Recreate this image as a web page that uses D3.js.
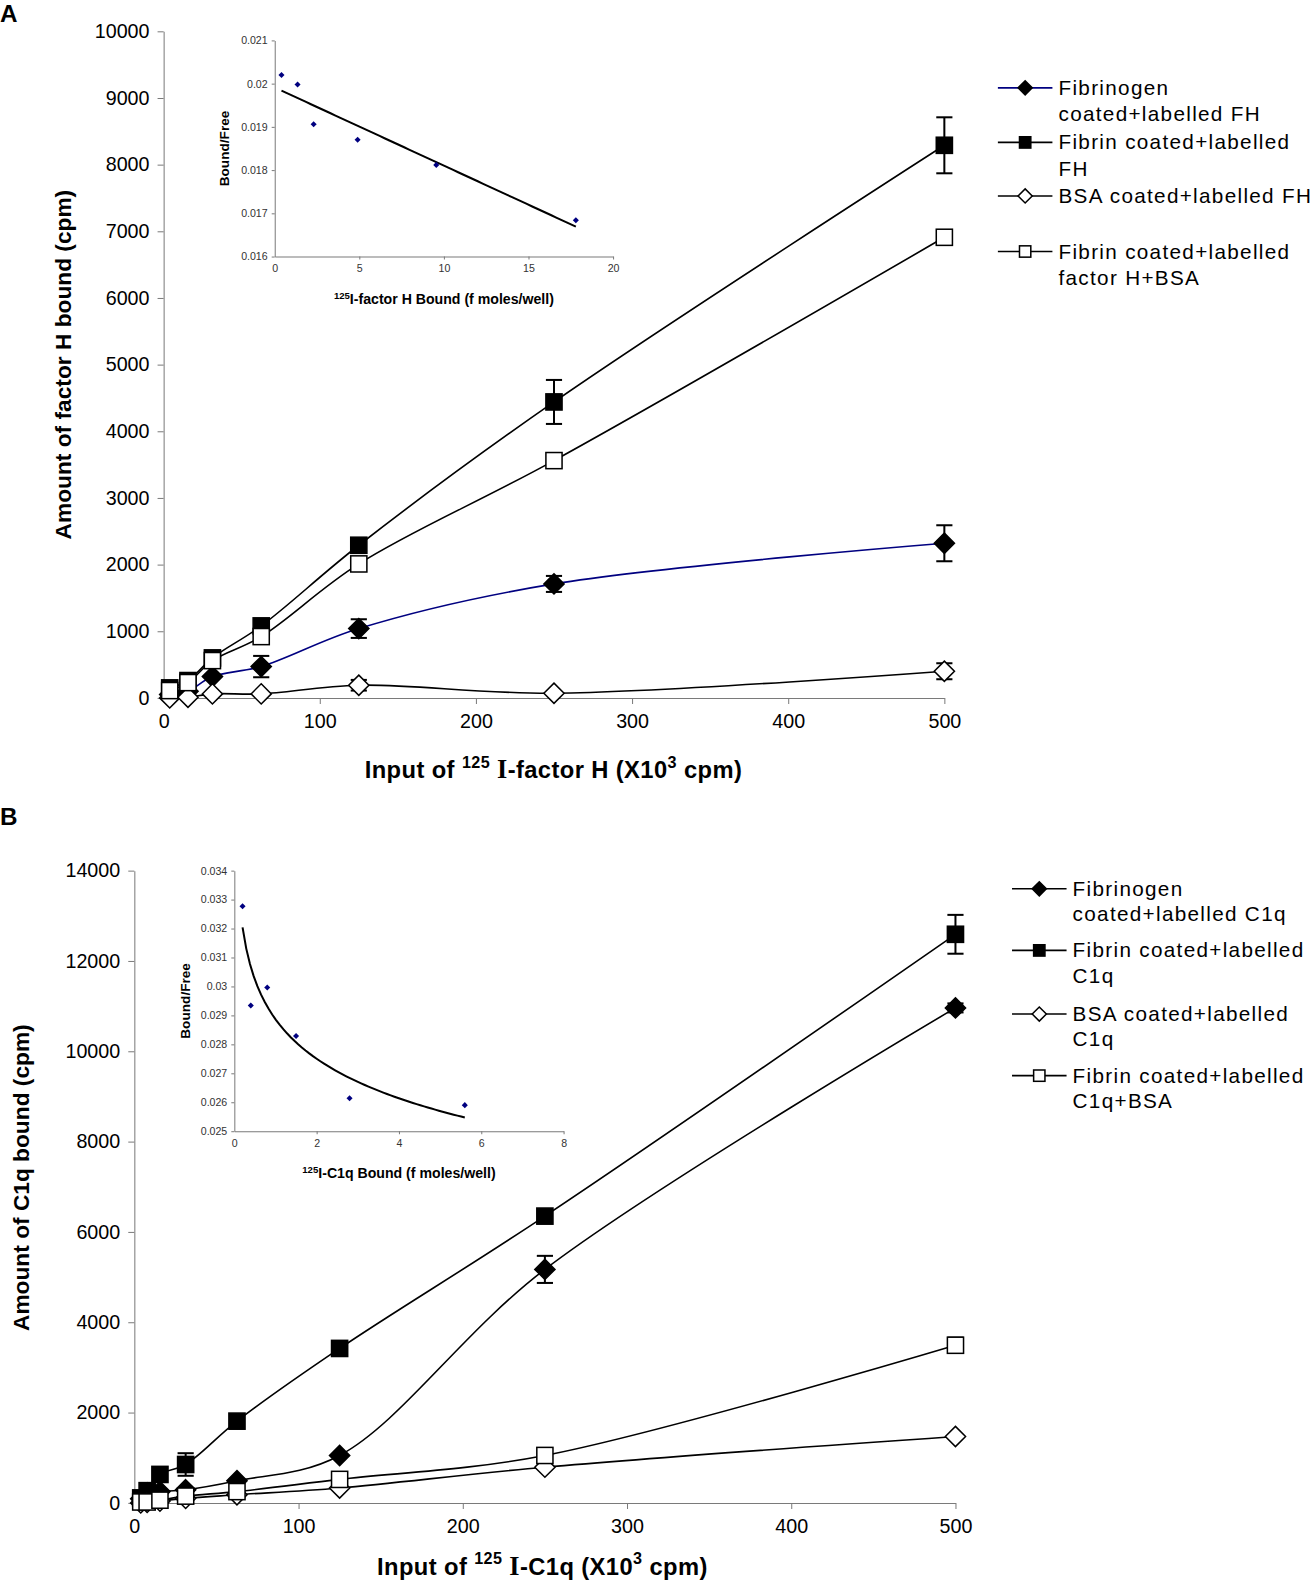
<!DOCTYPE html>
<html>
<head>
<meta charset="utf-8">
<script src="https://cdn.jsdelivr.net/npm/d3@7"></script>
<style>
  body { margin: 0; background: #fff; }
  svg { display: block; font-family: Arial, "Liberation Sans", sans-serif; }
</style>
</head>
<body>
<svg id="fig" width="1312" height="1583"></svg>
<script>
/* ---- panel A : factor H binding ---- */
var inputA = [3.9, 15.6, 31.25, 62.5, 125, 250, 500];
var fibrinogenA = [50, 100, 320, 470, 1040, 1710, 2320];
var fibrinogenErrA = [0, 0, 0, 160, 140, 120, 270];
var fibrinA = [150, 260, 600, 1080, 2290, 4440, 8290];
var fibrinErrA = [100, 0, 0, 0, 0, 330, 420];
var bsaA = [0, 10, 60, 60, 190, 70, 400];
var bsaErrA = [0, 0, 0, 0, 80, 0, 120];
var fibrinBsaA = [110, 230, 560, 920, 2010, 3560, 6910];
var fibrinBsaErrA = [0, 0, 0, 0, 0, 0, 0];
var yTicksA = [0, 1000, 2000, 3000, 4000, 5000, 6000, 7000, 8000, 9000, 10000];
var xTicks = [0, 100, 200, 300, 400, 500];
var legendA = [
  ["Fibrinogen", "coated+labelled FH"],
  ["Fibrin coated+labelled", "FH"],
  ["BSA coated+labelled FH"],
  ["Fibrin coated+labelled", "factor H+BSA"]
];

/* Scatchard inset A */
var scatBoundA = [0.4, 1.35, 2.3, 4.9, 9.55, 17.8];
var scatRatioA = [0.0202, 0.01998, 0.01906, 0.0187, 0.01812, 0.01684];
var insetXTicksA = [0, 5, 10, 15, 20];
var insetYTicksA = [0.016, 0.017, 0.018, 0.019, 0.02, 0.021];

/* ---- panel B : C1q binding ---- */
var inputB = [3.9, 7.8, 15.6, 31.25, 62.5, 125, 250, 500];
var fibrinogenB = [90, 220, 250, 290, 490, 1050, 5170, 10960];
var fibrinogenErrB = [0, 0, 0, 0, 0, 0, 300, 100];
var fibrinB = [110, 270, 630, 850, 1810, 3420, 6350, 12590];
var fibrinErrB = [0, 0, 0, 250, 0, 0, 0, 430];
var bsaB = [0, 10, 40, 100, 180, 330, 790, 1470];
var bsaErrB = [0, 0, 0, 0, 0, 0, 0, 0];
var fibrinBsaB = [20, 20, 60, 150, 250, 520, 1050, 3490];
var fibrinBsaErrB = [0, 0, 0, 0, 0, 0, 0, 170];
var yTicksB = [0, 2000, 4000, 6000, 8000, 10000, 12000, 14000];
var legendB = [
  ["Fibrinogen", "coated+labelled C1q"],
  ["Fibrin coated+labelled", "C1q"],
  ["BSA coated+labelled", "C1q"],
  ["Fibrin coated+labelled", "C1q+BSA"]
];

/* Scatchard inset B */
var scatBoundB = [0.2, 0.4, 0.8, 1.5, 2.8, 5.6];
var scatRatioB = [0.03277, 0.02934, 0.02996, 0.02829, 0.02614, 0.0259];
var insetXTicksB = [0, 2, 4, 6, 8];
var insetYTicksB = [0.025, 0.026, 0.027, 0.028, 0.029, 0.03, 0.031, 0.032, 0.033, 0.034];

// layout numbers below were measured on a slightly shrunk view, hence the scale
var svg = d3.select("#fig").append("g").attr("transform", "scale(1.01)");
var axisColor = "#7a7a7a";

function marker(g, kind, fill, r) {
  if (kind == "diamond") {
    return g.append("path").attr("d", "M0," + (-r) + "L" + r + ",0L0," + r + "L" + (-r) + ",0Z")
      .attr("fill", fill).attr("stroke", "#000").attr("stroke-width", 1.5);
  }
  var s = r * 0.8;
  return g.append("rect").attr("x", -s).attr("y", -s).attr("width", 2 * s).attr("height", 2 * s)
    .attr("fill", fill).attr("stroke", "#000").attr("stroke-width", 1.5);
}

function styleAxis(g, fs) {
  g.select(".domain").attr("stroke", axisColor);
  g.selectAll(".tick line").attr("stroke", axisColor);
  g.selectAll(".tick text").attr("fill", "#000").style("font-size", fs + "px").style("font-family", "Arial, 'Liberation Sans', sans-serif");
}

function mainPanel(p) {
  var x = d3.scaleLinear().domain([0, 500]).range([p.left, p.right]);
  var y = d3.scaleLinear().domain([0, p.ymax]).range([p.bottom, p.top]);
  var g = svg.append("g");

  var ga = g.append("g").attr("transform", "translate(0," + p.bottom + ")")
    .call(d3.axisBottom(x).tickValues(xTicks).tickSize(6).tickSizeOuter(0).tickPadding(10));
  styleAxis(ga, 19.5);
  ga.selectAll(".tick").filter(function(d) { return d == 0; }).select("line").remove();
  var gy = g.append("g").attr("transform", "translate(" + p.left + ",0)")
    .call(d3.axisLeft(y).tickValues(p.yTicks).tickSize(6).tickSizeOuter(0).tickPadding(8).tickFormat(d3.format("d")));
  styleAxis(gy, 19.5);

  var line = d3.line().curve(d3.curveCatmullRom.alpha(0.5))
    .x(function(d) { return x(d[0]); }).y(function(d) { return y(d[1]); });

  p.series.forEach(function(s) {
    var pts = p.input.map(function(v, i) { return [v, s.values[i], s.err[i]]; });
    g.append("path").datum(pts).attr("d", line).attr("fill", "none")
      .attr("stroke", s.color).attr("stroke-width", 1.6);
  });
  p.series.forEach(function(s) {
    var pts = p.input.map(function(v, i) { return [v, s.values[i], s.err[i]]; });
    pts.filter(function(d) { return d[2] > 0; }).forEach(function(d) {
      var cx = x(d[0]), y0 = y(d[1] - d[2]), y1 = y(d[1] + d[2]);
      var eb = g.append("g").attr("stroke", "#000").attr("stroke-width", 2);
      eb.append("line").attr("x1", cx).attr("x2", cx).attr("y1", y0).attr("y2", y1);
      eb.append("line").attr("x1", cx - 8).attr("x2", cx + 8).attr("y1", y0).attr("y2", y0);
      eb.append("line").attr("x1", cx - 8).attr("x2", cx + 8).attr("y1", y1).attr("y2", y1);
    });
    pts.forEach(function(d) {
      var m = g.append("g").attr("transform", "translate(" + x(d[0]) + "," + y(d[1]) + ")");
      marker(m, s.shape, s.fill, 10);
    });
  });

  // axis titles
  g.append("text").attr("transform", "translate(" + p.yTitleX + "," + p.yTitleY + ") rotate(-90)")
    .attr("text-anchor", "middle").style("font-size", "22.5px").style("font-weight", "bold").text(p.yTitle);
  var xt = g.append("text").attr("x", p.xTitleX).attr("y", p.xTitleY).attr("text-anchor", "middle")
    .style("font-size", "23.5px").style("font-weight", "bold").style("letter-spacing", "0.4px");
  xt.append("tspan").text("Input of ");
  xt.append("tspan").attr("dy", -10).style("font-size", "16px").text("125");
  xt.append("tspan").attr("dy", 10).text(" ");
  xt.append("tspan").style("font-family", "'Liberation Serif', 'DejaVu Serif', serif").style("font-size", "26px").text("I");
  xt.append("tspan").text(p.xTitleRest);
  xt.append("tspan").attr("dy", -10).style("font-size", "16px").text("3");
  xt.append("tspan").attr("dy", 10).text(" cpm)");

  g.append("text").attr("x", 0).attr("y", p.letterY).style("font-size", "24px").style("font-weight", "bold").text(p.letter);

  // legend
  var lg = g.append("g");
  p.legend.forEach(function(lines, i) {
    var s = p.series[i], ly = p.legendY[i];
    lg.append("line").attr("x1", p.legendX).attr("x2", p.legendX + 54).attr("y1", ly).attr("y2", ly)
      .attr("stroke", s.color).attr("stroke-width", 1.6);
    var m = lg.append("g").attr("transform", "translate(" + (p.legendX + 27) + "," + ly + ")");
    marker(m, s.shape, s.fill, 7);
    var t = lg.append("text").attr("x", p.legendX + 60).attr("y", ly + 7)
      .style("font-size", "20.5px").style("letter-spacing", "1.3px");
    lines.forEach(function(txt, k) {
      t.append("tspan").attr("x", p.legendX + 60).attr("dy", k == 0 ? 0 : p.legendLine).text(txt);
    });
  });
}

function inset(p) {
  var x = d3.scaleLinear().domain(p.xDomain).range([p.left, p.right]);
  var y = d3.scaleLinear().domain(p.yDomain).range([p.bottom, p.top]);
  var g = svg.append("g");
  var ga = g.append("g").attr("transform", "translate(0," + p.bottom + ")")
    .call(d3.axisBottom(x).tickValues(p.xTicks).tickSize(3).tickSizeOuter(0).tickPadding(5));
  styleAxis(ga, 10.5);
  ga.selectAll(".tick").filter(function(d) { return d == 0; }).select("line").remove();
  var gy = g.append("g").attr("transform", "translate(" + p.left + ",0)")
    .call(d3.axisLeft(y).tickValues(p.yTicks).tickSize(3).tickSizeOuter(0).tickPadding(4).tickFormat(d3.format("")));
  styleAxis(gy, 10.5);
  gy.selectAll(".tick text").attr("fill", "#333");
  ga.selectAll(".tick text").attr("fill", "#333");

  // least squares trend line (linear or logarithmic in x)
  var tx = p.bound.map(function(v) { return p.log ? Math.log(v) : v; });
  var mx = d3.mean(tx), my = d3.mean(p.ratio);
  var sxy = d3.sum(tx, function(v, i) { return (v - mx) * (p.ratio[i] - my); });
  var sxx = d3.sum(tx, function(v) { return (v - mx) * (v - mx); });
  var b = sxy / sxx, a = my - b * mx;
  var lo = d3.min(p.bound), hi = d3.max(p.bound);
  var trend = d3.range(0, 61).map(function(k) {
    var v = lo + (hi - lo) * k / 60;
    return [v, a + b * (p.log ? Math.log(v) : v)];
  });
  g.append("path").datum(trend).attr("fill", "none").attr("stroke", "#000").attr("stroke-width", 2)
    .attr("d", d3.line().x(function(d) { return x(d[0]); }).y(function(d) { return y(d[1]); }));

  p.bound.forEach(function(v, i) {
    g.append("path").attr("transform", "translate(" + x(v) + "," + y(p.ratio[i]) + ")")
      .attr("d", "M0,-3L3,0L0,3L-3,0Z").attr("fill", "#000080");
  });

  g.append("text").attr("transform", "translate(" + p.yTitleX + "," + ((p.top + p.bottom) / 2) + ") rotate(-90)")
    .attr("text-anchor", "middle").style("font-size", "13.5px").style("font-weight", "bold").text("Bound/Free");
  var xt = g.append("text").attr("x", (p.left + p.right) / 2).attr("y", p.xTitleY).attr("text-anchor", "middle")
    .style("font-size", "14px").style("font-weight", "bold");
  xt.append("tspan").attr("dy", -5).style("font-size", "9.5px").text("125");
  xt.append("tspan").attr("dy", 5).text(p.xTitleRest);
}

mainPanel({
  letter: "A", letterY: 22,
  left: 162, right: 935, top: 31, bottom: 691, ymax: 10000, yTicks: yTicksA,
  input: inputA,
  series: [
    { values: fibrinogenA, err: fibrinogenErrA, shape: "diamond", fill: "#000", color: "#000080" },
    { values: fibrinA, err: fibrinErrA, shape: "square", fill: "#000", color: "#000" },
    { values: bsaA, err: bsaErrA, shape: "diamond", fill: "#fff", color: "#000" },
    { values: fibrinBsaA, err: fibrinBsaErrA, shape: "square", fill: "#fff", color: "#000" }
  ],
  yTitle: "Amount of factor H bound (cpm)", yTitleX: 70, yTitleY: 361,
  xTitleX: 548, xTitleY: 770, xTitleRest: "-factor H (X10",
  legend: legendA, legendX: 988, legendY: [87, 141, 194, 249], legendLine: 26
});

mainPanel({
  letter: "B", letterY: 817,
  left: 133, right: 946, top: 862, bottom: 1488, ymax: 14000, yTicks: yTicksB,
  input: inputB,
  series: [
    { values: fibrinogenB, err: fibrinogenErrB, shape: "diamond", fill: "#000", color: "#000" },
    { values: fibrinB, err: fibrinErrB, shape: "square", fill: "#000", color: "#000" },
    { values: bsaB, err: bsaErrB, shape: "diamond", fill: "#fff", color: "#000" },
    { values: fibrinBsaB, err: fibrinBsaErrB, shape: "square", fill: "#fff", color: "#000" }
  ],
  yTitle: "Amount of C1q bound (cpm)", yTitleX: 29, yTitleY: 1166,
  xTitleX: 537, xTitleY: 1559, xTitleRest: "-C1q (X10",
  legend: legendB, legendX: 1002, legendY: [880, 941, 1004, 1065], legendLine: 25
});

inset({
  left: 272, right: 607, top: 40, bottom: 254,
  xDomain: [0, 20], yDomain: [0.016, 0.021], xTicks: insetXTicksA, yTicks: insetYTicksA,
  bound: scatBoundA, ratio: scatRatioA, log: false,
  yTitleX: 227, xTitleY: 301, xTitleRest: "I-factor H Bound (f moles/well)"
});

inset({
  left: 232, right: 558, top: 862, bottom: 1120,
  xDomain: [0, 8], yDomain: [0.025, 0.034], xTicks: insetXTicksB, yTicks: insetYTicksB,
  bound: scatBoundB, ratio: scatRatioB, log: true,
  yTitleX: 188, xTitleY: 1166, xTitleRest: "I-C1q Bound (f moles/well)"
});
</script>
</body>
</html>
